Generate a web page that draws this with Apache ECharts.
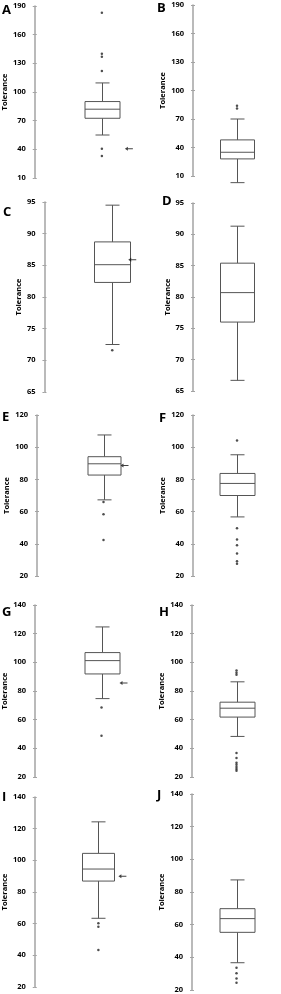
<!DOCTYPE html>
<html><head><meta charset="utf-8">
<script src="https://cdn.jsdelivr.net/npm/echarts@6/dist/echarts.min.js"></script>
<style>html,body{margin:0;padding:0;background:#fff}#c{width:281px;height:994px}</style>
</head><body><div id="c"></div>
<script>
// ---------- data ----------
const panelLetters = ['A','B','C','D','E','F','G','H','I','J'];
const yAxisTitle = 'Tolerance';
const axisMin  = [10, 10, 65, 65, 20, 20, 20, 20, 20, 20];
const axisMax  = [190, 190, 95, 95, 120, 120, 140, 140, 140, 140];
const axisStep = [30, 30, 5, 5, 20, 20, 20, 20, 20, 20];
// [lower whisker, Q1, median, Q3, upper whisker]
const statsA = [55, 72.5, 82, 90, 109.5];
const statsB = [3, 28, 35, 48, 70];
const statsC = [72.5, 82.3, 85.1, 88.7, 94.5];
const statsD = [66.7, 76, 80.7, 85.4, 91.3];
const statsE = [67.3, 82.7, 89.7, 94.1, 107.6];
const statsF = [56.7, 70, 77.5, 83.7, 95.3];
const statsG = [74.7, 91.9, 101.2, 106.8, 124.7];
const statsH = [48.3, 61.8, 68, 72.2, 86.4];
const statsI = [63.4, 86.9, 94.5, 104.4, 124.3];
const statsJ = [36.7, 55.3, 63.7, 69.8, 87.4];
const outA = [183, 140, 137, 122, 40.5, 33];
const outB = [84, 81];
const outC = [71.6];
const outD = [];
const outE = [66, 58.4, 42.4];
const outF = [104.2, 49.7, 42.7, 39.1, 33.9, 29.1, 27.6];
const outG = [68.5, 48.8];
const outH = [94.3, 92.8, 91.3, 36.7, 33.2, 30, 28.5, 27, 25.5, 24.3];
const outI = [60.3, 58, 43.3];
const outJ = [33.6, 30.2, 27.1, 24.5];
const arrowValues = [40.5, null, 85.9, null, 88.7, null, 85.5, null, 90, null];

const allStats = [statsA, statsB, statsC, statsD, statsE, statsF, statsG, statsH, statsI, statsJ];
const allOut = [outA, outB, outC, outD, outE, outF, outG, outH, outI, outJ];

// ---------- layout (styling only) ----------
const gridBox = [
  [33, 6, 136, 172], [193, 5, 138, 171],
  [36, 202, 144, 190], [193, 203, 135, 188],
  [37, 415, 133, 161], [193, 415, 138, 161],
  [35, 605, 133, 172], [192, 605, 140, 172],
  [34, 797, 128, 190], [192, 794, 140, 196]
];
const boxWidth = [35, 34, 36, 34, 33, 35, 35, 35, 32, 35];
const arrowOffset = [27, 0, 20, 0, 21, 0, 22, 0, 24, 0];
const letterPos = [[2,4],[157,2],[3,206],[162,195],[2,411],[159,412],[2,606],[159,606],[2,791],[157,789]];

const LINE = '#555555';
const AXIS = '#a3a3a3';
const FONT = '"Open Sans", Lato, sans-serif';

const chart = echarts.init(document.getElementById('c'), null, {renderer: 'canvas'});
const grid = [], xAxis = [], yAxis = [], series = [], graphic = [];

panelLetters.forEach((L, i) => {
  const g = gridBox[i];
  grid.push({left: g[0], top: g[1], width: g[2], height: g[3], containLabel: false});
  xAxis.push({type: 'category', gridIndex: i, data: [L], show: false, boundaryGap: true});
  const base = {type: 'value', gridIndex: i, position: 'left', offset: 0, min: axisMin[i], max: axisMax[i], interval: axisStep[i], splitLine: {show: false}};
  yAxis.push(Object.assign({}, base, {
    name: yAxisTitle, nameLocation: 'middle', nameGap: 20,
    nameTextStyle: {fontFamily: FONT, fontWeight: 'bold', fontSize: 7.5, color: '#000'},
    axisLine: {show: true, onZero: false, lineStyle: {color: AXIS, width: 1.5}},
    axisTick: {show: true, inside: false, length: 2, lineStyle: {color: AXIS, width: 1}},
    axisLabel: {show: true, margin: 9, fontFamily: FONT, fontWeight: 'bold', fontSize: 7.5, color: '#000'}
  }));
  const yIdx = yAxis.length - 1;
  yAxis.push(Object.assign({}, base, {
    axisLine: {show: false, onZero: false}, axisLabel: {show: false},
    axisTick: {show: true, inside: true, length: 2, lineStyle: {color: AXIS, width: 1}}
  }));
  const bw = boxWidth[i];
  series.push({
    type: 'custom', xAxisIndex: i, yAxisIndex: yIdx, clip: false,
    data: [[0].concat(allStats[i])],
    encode: {x: 0, y: [1, 2, 3, 4, 5]},
    renderItem: function (params, api) {
      const pMin = api.coord([0, api.value(1)]);
      const pQ1 = api.coord([0, api.value(2)]);
      const pMed = api.coord([0, api.value(3)]);
      const pQ3 = api.coord([0, api.value(4)]);
      const pMax = api.coord([0, api.value(5)]);
      const x = Math.round(pMin[0]) + 0.5;
      const hb = bw / 2, hc = 7;
      const st = {stroke: LINE, lineWidth: 1, fill: null};
      return {type: 'group', children: [
        {type: 'line', shape: {x1: x, y1: pMax[1], x2: x, y2: pQ3[1]}, style: st},
        {type: 'line', shape: {x1: x, y1: pQ1[1], x2: x, y2: pMin[1]}, style: st},
        {type: 'line', shape: {x1: x - hc, y1: pMax[1], x2: x + hc, y2: pMax[1]}, style: st},
        {type: 'line', shape: {x1: x - hc, y1: pMin[1], x2: x + hc, y2: pMin[1]}, style: st},
        {type: 'rect', shape: {x: x - hb, y: pQ3[1], width: bw, height: pQ1[1] - pQ3[1]}, style: {stroke: LINE, lineWidth: 1, fill: '#fff'}},
        {type: 'line', shape: {x1: x - hb, y1: pMed[1], x2: x + hb, y2: pMed[1]}, style: st}
      ]};
    }
  });
  if (allOut[i].length) {
    series.push({
      type: 'scatter', xAxisIndex: i, yAxisIndex: yIdx, clip: false,
      data: allOut[i].map(v => [0, v]),
      symbol: 'circle', symbolSize: 2.5,
      itemStyle: {color: '#222'}, silent: true
    });
  }
  if (arrowValues[i] !== null) {
    series.push({
      type: 'scatter', xAxisIndex: i, yAxisIndex: yIdx, clip: false,
      data: [[0, arrowValues[i]]],
      symbol: 'path://M0,5 L6,1 L6,4 L16,4 L16,6 L6,6 L6,9 Z',
      symbolSize: [8, 4], symbolOffset: [arrowOffset[i], 0],
      itemStyle: {color: '#111'}, silent: true
    });
  }
  graphic.push({type: 'text', left: letterPos[i][0], top: letterPos[i][1],
    style: {text: L, fontFamily: FONT, fontWeight: 'bold', fontSize: 13, fill: '#000'}});
});

chart.setOption({animation: false, backgroundColor: '#fff', grid, xAxis, yAxis, series, graphic});
</script></body></html>
